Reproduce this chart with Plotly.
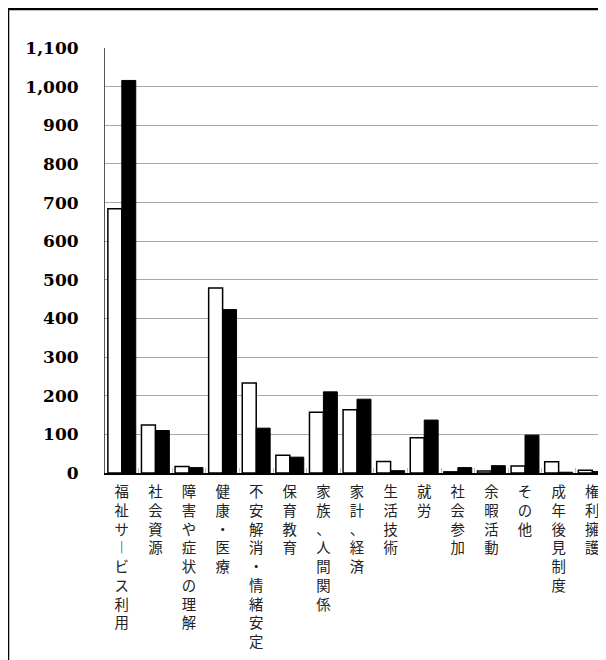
import plotly.graph_objects as go

categories = ["福祉サービス利用", "社会資源", "障害や症状の理解", "健康・医療",
              "不安解消・情緒安定", "保育教育", "家族、人間関係", "家計、経済",
              "生活技術", "就労", "社会参加", "余暇活動", "その他", "成年後見制度", "権利擁護"]
series_a = [684, 124, 17, 479, 233, 46, 157, 164, 30, 91, 3, 5, 18, 29, 7]
series_b = [1016, 110, 14, 423, 116, 41, 210, 191, 6, 137, 14, 19, 98, 2, 4]
y_ticks = list(range(0, 1101, 100))
y_tick_text = [f"{v:,}" for v in y_ticks]

vmap = {"ー": "︱"}
def vertical(s):
    return "<br>".join(vmap.get(c, c) for c in s)

fig = go.Figure()
fig.add_trace(go.Bar(x=categories, y=series_a, marker=dict(color="white", line=dict(color="black", width=1.5)),
                     showlegend=False))
fig.add_trace(go.Bar(x=categories, y=series_b, marker=dict(color="black", line=dict(color="black", width=1)),
                     showlegend=False))

# page body has an 8px margin; figure sized to fit the 606x660 window
W, H = 598, 652
L, R, T, B = 97, 0, 40, 187
pw = W - L - R
ph = H - T - B

fig.update_layout(
    width=W, height=H,
    margin=dict(l=L, r=R, t=T, b=B, pad=0),
    paper_bgcolor="white", plot_bgcolor="white",
    barmode="group", bargap=0.17, bargroupgap=0,
    xaxis=dict(
        type="category", range=[-0.5, 14.41],
        tickmode="array", tickvals=categories, ticktext=[vertical(c) for c in categories],
        tickfont=dict(family="Noto Sans CJK JP", size=14.4, color="#222"),
        ticks="inside", tickson="boundaries", ticklen=5, tickcolor="#bbbbbb", tickwidth=1,
        showline=True, linecolor="black", linewidth=2,
        showgrid=False, ticklabelstandoff=5,
    ),
    yaxis=dict(
        range=[0, 1100], tickmode="array", tickvals=y_ticks, ticktext=y_tick_text,
        tickfont=dict(family="DejaVu Serif", size=17, color="black", weight="bold"),
        showgrid=True, gridcolor="#a8a8a8", gridwidth=1,
        showline=True, linecolor="#555555", linewidth=1,
        zeroline=False, ticks="", ticklabelstandoff=22,
    ),
    shapes=[
        dict(type="line", xref="paper", yref="paper",
             x0=(0 - L) / pw, x1=(W + 10 - L) / pw, y0=(H - B - 1) / ph, y1=(H - B - 1) / ph,
             line=dict(color="black", width=2.5)),
        dict(type="line", xref="paper", yref="paper",
             x0=(0 - L) / pw, x1=(0 - L) / pw, y0=(H - B + 5) / ph, y1=-(B + 10) / ph,
             line=dict(color="black", width=2.5)),
    ],
)

fig.write_html("out.html")
